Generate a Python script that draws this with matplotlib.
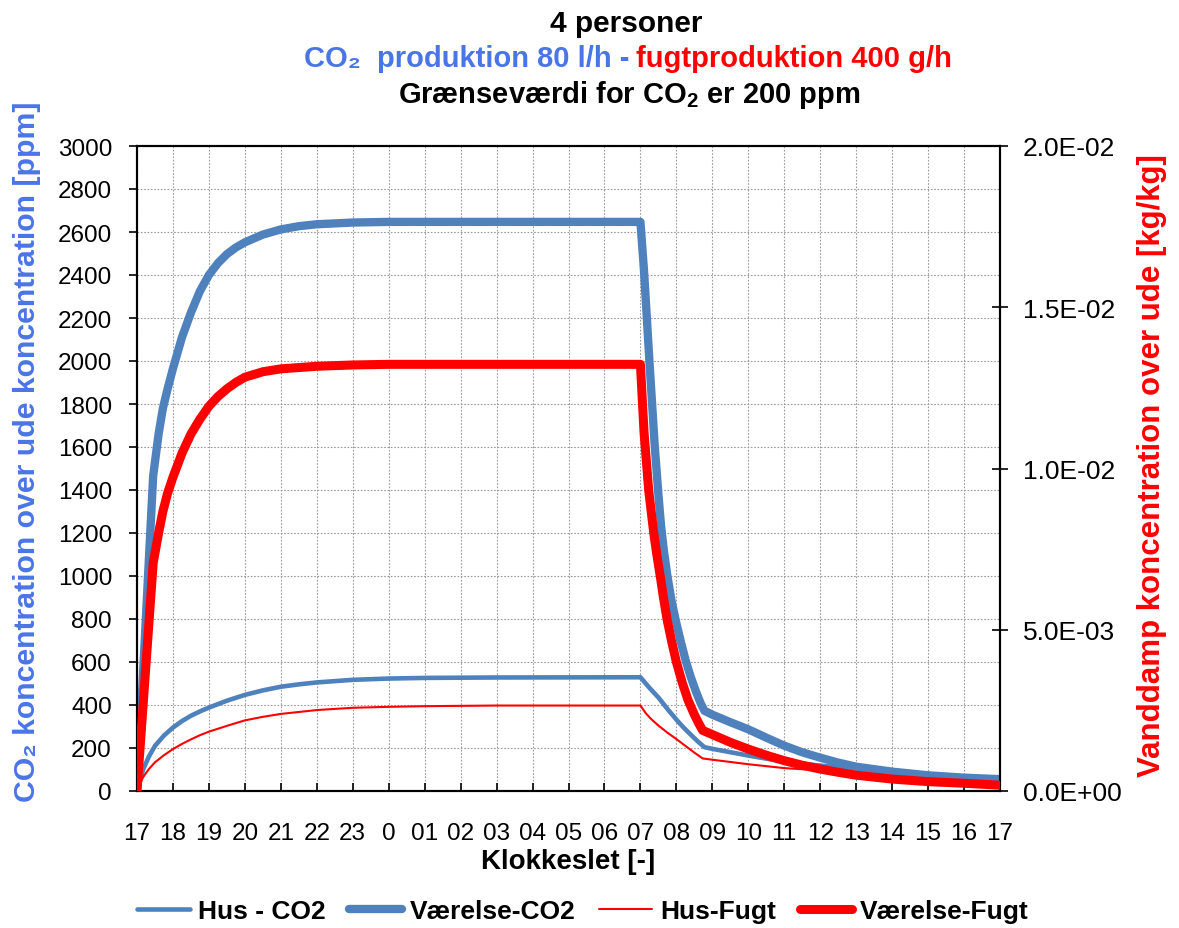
import numpy as np
import matplotlib
matplotlib.use('Agg')
import matplotlib.pyplot as plt
from matplotlib.ticker import FuncFormatter

plt.rcParams['font.family'] = ['Liberation Sans', 'DejaVu Sans']
plt.rcParams['mathtext.fontset'] = 'custom'
plt.rcParams['mathtext.rm'] = 'Liberation Sans'
plt.rcParams['mathtext.bf'] = 'Liberation Sans:bold'

# x axis: hours after 17:00
hour_labels = ['17', '18', '19', '20', '21', '22', '23', '0', '01', '02', '03', '04',
               '05', '06', '07', '08', '09', '10', '11', '12', '13', '14', '15', '16', '17']

# Hus - CO2 [ppm]
t_hus_co2 = [0, 0.17, 0.33, 0.5, 0.75, 1, 1.25, 1.5, 1.75, 2, 2.5, 3, 3.5, 4, 4.5, 5, 6, 7,
             8, 10, 14, 14.25, 14.5, 14.75, 15, 15.2, 15.4, 15.6, 15.78, 16, 17, 18, 19,
             20, 21, 22, 23, 24]
hus_co2 = [0, 100, 160, 210, 258, 295, 325, 350, 370, 388, 420, 447, 468, 485, 496, 505,
           517, 523, 526, 528, 529, 480, 435, 382, 332, 295, 262, 230, 204, 196, 165, 136,
           118, 104, 88, 72, 61, 54]

# Værelse-CO2 [ppm]
t_vaer_co2 = [0, 0.45, 0.6, 0.72, 0.85, 1.0, 1.25, 1.5, 1.75, 2, 2.25, 2.5, 2.75, 3, 3.5, 4,
              4.5, 5, 6, 7, 14, 14.1, 14.25, 14.4, 14.5, 14.57, 14.65, 14.75, 14.87, 15.0,
              15.13, 15.27, 15.4, 15.55, 15.67, 15.78, 16, 16.5, 17, 17.5, 18, 18.5, 19,
              19.5, 20, 21, 22, 23, 24]
vaer_co2 = [0, 1466, 1660, 1780, 1870, 1965, 2110, 2225, 2325, 2400, 2455, 2497, 2528, 2552,
            2588, 2612, 2627, 2636, 2644, 2647, 2647, 2420, 2000, 1600, 1380, 1240, 1120,
            1000, 880, 780, 690, 600, 530, 460, 410, 373, 355, 320, 287, 248, 211, 180, 155,
            132, 113, 90, 73, 62, 55]

# Hus-Fugt [kg/kg]
t_hus_fugt = [0, 0.17, 0.33, 0.5, 0.75, 1, 1.25, 1.5, 1.75, 2, 2.5, 3, 3.5, 4, 4.5, 5, 6, 7,
              8, 10, 14, 14.15, 14.3, 14.5, 14.75, 15, 15.25, 15.5, 15.73, 16, 17, 18, 19,
              20, 21, 22, 23, 24]
hus_fugt = [0, 0.00043, 0.00068, 0.00089, 0.00111, 0.00130, 0.00146, 0.00160, 0.00173,
            0.00184, 0.00202, 0.00219, 0.00230, 0.00239, 0.00245, 0.00251, 0.00258, 0.00261,
            0.00263, 0.00265, 0.00265, 0.00241, 0.00223, 0.00203, 0.00181, 0.00161,
            0.00140, 0.00119, 0.00101, 0.00097, 0.00083, 0.00071, 0.00064, 0.00049,
            0.00037, 0.00029, 0.00023, 0.00018]

# Værelse-Fugt [kg/kg]
t_vaer_fugt = [0, 0.45, 0.6, 0.72, 0.85, 1.0, 1.25, 1.5, 1.75, 2.0, 2.25, 2.5, 2.75, 3.0,
               3.5, 4.0, 4.5, 5.0, 6.0, 7.0, 14.0, 14.1, 14.23, 14.37, 14.46, 14.55, 14.64,
               14.74, 14.87, 15.0, 15.16, 15.32, 15.5, 15.62, 15.73, 16, 16.5, 17, 17.5, 18,
               18.5, 19, 19.5, 20, 21, 22, 23, 24]
vaer_fugt = [0, 0.00707, 0.00800, 0.00867, 0.00923, 0.00973, 0.01047, 0.01107, 0.01153,
             0.01193, 0.01223, 0.01247, 0.01267, 0.01283, 0.01300, 0.01309, 0.01313,
             0.01317, 0.01321, 0.01323, 0.01323, 0.01113, 0.00933, 0.00800, 0.00730,
             0.00667, 0.00600, 0.00533, 0.00463, 0.00400, 0.00337, 0.00283, 0.00237,
             0.00210, 0.00188, 0.00175, 0.00151, 0.00130, 0.00111, 0.00094, 0.00080,
             0.00068, 0.00058, 0.00049, 0.00037, 0.00029, 0.00024, 0.00018]

blue = '#4F81BD'
red = '#FF0000'
title_blue = '#4A75E6'

W, H = 1179, 929
fig = plt.figure(figsize=(W / 100, H / 100), dpi=100)
ax = fig.add_axes([137 / W, 1 - 792 / H, (1000 - 137) / W, (792 - 147) / H])
ax2 = ax.twinx()

kw = dict(solid_joinstyle='round', solid_capstyle='round')
l1, = ax.plot(t_hus_co2, hus_co2, color=blue, lw=3.3, label='Hus - CO2', zorder=3, **kw)
l2, = ax.plot(t_vaer_co2, vaer_co2, color=blue, lw=6, label='Værelse-CO2', zorder=4, **kw)
l3, = ax2.plot(t_hus_fugt, hus_fugt, color=red, lw=1.5, label='Hus-Fugt', zorder=3, **kw)
l4, = ax2.plot(t_vaer_fugt, vaer_fugt, color=red, lw=6.5, label='Værelse-Fugt', zorder=4, **kw)

ax.set_xlim(0, 24)
ax.set_ylim(0, 3000)
ax2.set_ylim(0, 0.02)

ax.set_xticks(range(25))
ax.set_xticklabels(hour_labels)
ax.set_yticks(range(0, 3001, 200))
ax2.set_yticks(np.arange(0, 0.0201, 0.005))
ax2.yaxis.set_major_formatter(FuncFormatter(lambda v, p: f'{v:.1E}'))

ax.grid(True, color='#9a9a9a', linestyle=(0, (1.5, 1.5)), lw=0.8)
ax.set_axisbelow(True)

ax.tick_params(axis='x', direction='in', length=6, width=1.2, pad=22, labelsize=17.5,
               top=False)
ax.tick_params(axis='y', direction='out', length=6, width=1.2, pad=12, labelsize=17.5,
               right=False)
ax2.tick_params(axis='y', direction='inout', length=11, width=1.2, pad=11, labelsize=19)

for a in (ax, ax2):
    for s in a.spines.values():
        s.set_linewidth(1.5)
        s.set_color('black')

# titles
fig.text(626 / W, 1 - 32 / H, '4 personer', ha='center', va='baseline',
         fontsize=21.5, fontweight='bold')
fig.text(629 / W, 1 - 67 / H, 'CO₂  produktion 80 l/h -', ha='right', va='baseline',
         fontsize=21, fontweight='bold', color=title_blue)
fig.text(636 / W, 1 - 67 / H, 'fugtproduktion 400 g/h', ha='left', va='baseline',
         fontsize=21, fontweight='bold', color=red)
fig.text(629 / W, 1 - 103 / H, r'Grænseværdi for CO$_\mathbf{2}$ er 200 ppm', ha='center',
         va='baseline', fontsize=21, fontweight='bold')

# axis labels
fig.text(27 / W, 1 - 452 / H, 'CO₂ koncentration over ude koncentration [ppm]',
         rotation=90, ha='center', va='center', fontsize=21.8, fontweight='bold',
         color=title_blue)
fig.text(1152 / W, 1 - 466 / H, 'Vanddamp koncentration over ude [kg/kg]',
         rotation=90, ha='center', va='center', fontsize=22.5, fontweight='bold', color=red)
fig.text(568 / W, 1 - 862 / H, 'Klokkeslet [-]', ha='center', va='center',
         fontsize=20, fontweight='bold')

fig.legend([l1, l2, l3, l4], [l.get_label() for l in (l1, l2, l3, l4)],
           loc='center', bbox_to_anchor=(583 / W, 1 - 912 / H), ncol=4, frameon=False,
           prop={'size': 19, 'weight': 'bold'}, handlelength=2.0, handletextpad=0.3,
           columnspacing=0.9)

fig.savefig('out.png', dpi=100)
